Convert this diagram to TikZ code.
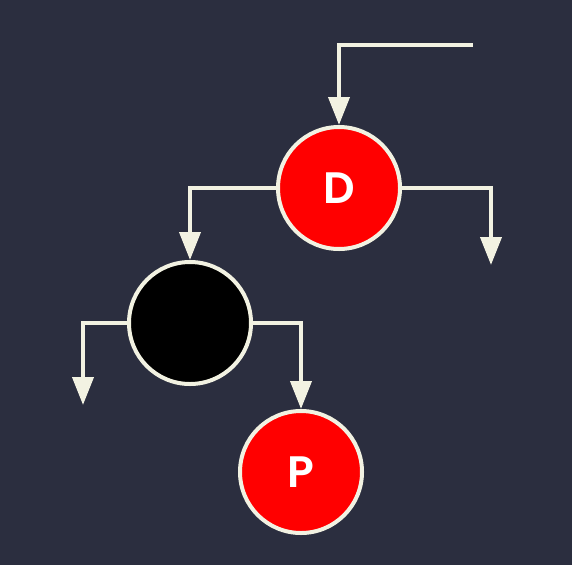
\documentclass[tikz,border=0pt]{standalone}
\usepackage{fontspec}
\setmainfont{Poppins}[BoldFont={* SemiBold}]
\usetikzlibrary{arrows.meta}
\definecolor{bg}{HTML}{2B2E3F}
\definecolor{ln}{HTML}{F2F2E2}
\definecolor{rd}{HTML}{FF0000}
\begin{document}
\begin{tikzpicture}[x=1pt,y=-1pt,
  tnode/.style={circle,draw=ln,line width=4pt,minimum size=122pt,inner sep=0pt,
    text=white,font=\fontsize{44}{44}\selectfont\bfseries},
  conn/.style={draw=ln,line width=4pt,-{Triangle[length=28pt,width=21pt]}}]
\fill[bg] (0,0) rectangle (572,565);
\useasboundingbox (0,0) rectangle (572,565);
\node[tnode,fill=rd] (d) at (339,188) {D};
\node[tnode,fill=black] (b) at (190,323) {};
\node[tnode,fill=rd] (p) at (301,472) {P};
\coordinate (top) at (473,45);
\coordinate (dr) at (491,265);
\coordinate (bl) at (83,405);
\draw[conn] (top) -| (d.north);
\draw[conn] (d.east) -| (dr);
\draw[conn] (d.west) -| (b.north);
\draw[conn] (b.west) -| (bl);
\draw[conn] (b.east) -| (p.north);
\end{tikzpicture}
\end{document}
